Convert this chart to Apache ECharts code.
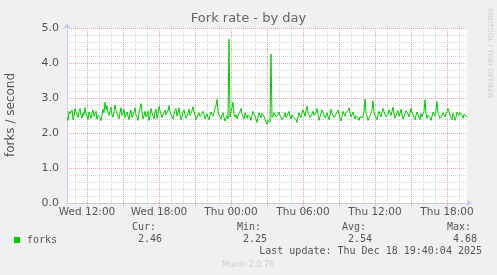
<!DOCTYPE html>
<html>
<head>
<meta charset="utf-8">
<script src="https://cdn.jsdelivr.net/npm/echarts@6/dist/echarts.min.js"></script>
<style>
html,body{margin:0;padding:0;background:#f0f0f0;}
#c{width:497px;height:275px;}
</style>
</head>
<body>
<div id="c"></div>
<script>
// Samples every 5 minutes, starting Wed 10:20, ending Thu 19:40
var startMinute = 10 * 60 + 20;
var stepMinutes = 5;
var forks = [
  2.45,2.36, 2.62,2.54, 2.50,2.66, 2.38,2.48, 2.70,2.60, 2.55,2.44, 2.62,2.70, 2.50,2.42, 2.58,2.50, 2.73,2.56,
  2.48,2.38, 2.60,2.52, 2.42,2.56, 2.66,2.48, 2.52,2.62, 2.40,2.50, 2.55,2.44, 2.35,2.52, 2.68,2.58, 2.88,2.66,
  2.78,2.60, 2.50,2.64, 2.74,2.52, 2.45,2.62, 2.80,2.66, 2.56,2.46, 2.40,2.58, 2.72,2.50, 2.58,2.68, 2.44,2.54,
  2.60,2.48, 2.38,2.56, 2.66,2.44, 2.50,2.60, 2.72,2.52, 2.46,2.36, 2.58,2.70, 2.84,2.62, 2.40,2.50, 2.62,2.46,
  2.52,2.62, 2.36,2.48, 2.70,2.58, 2.48,2.40, 2.60,2.68, 2.42,2.54, 2.76,2.64, 2.55,2.44, 2.45,2.58, 2.66,2.52,
  2.50,2.64, 2.78,2.60, 2.56,2.46, 2.40,2.54, 2.64,2.70, 2.48,2.58, 2.72,2.50, 2.38,2.46, 2.60,2.66, 2.52,2.42,
  2.44,2.56, 2.68,2.50, 2.56,2.64, 2.75,2.60, 2.50,2.38, 2.42,2.52, 2.58,2.48, 2.46,2.56, 2.62,2.52, 2.40,2.48,
  2.55,2.44, 2.38,2.50, 2.60,2.54, 2.48,2.58, 2.70,2.78, 2.96,2.64, 2.52,2.46, 2.40,2.52, 2.58,2.44, 2.34,2.42,
  2.50,2.40, 4.68,2.46, 2.62,2.72, 2.88,2.56, 2.45,2.52, 2.40,2.48, 2.56,2.62, 2.70,2.54, 2.46,2.40, 2.58,2.50,
  2.42,2.52, 2.55,2.46, 2.36,2.50, 2.62,2.54, 2.48,2.40, 2.30,2.44, 2.58,2.50, 2.44,2.56, 2.60,2.48, 2.38,2.32,
  2.25,2.36, 2.40,2.30, 4.25,2.44, 2.48,2.58, 2.55,2.46, 2.42,2.52, 2.60,2.50, 2.46,2.38, 2.35,2.48, 2.58,2.44,
  2.50,2.56, 2.62,2.48, 2.40,2.52, 2.54,2.44, 2.46,2.38, 2.30,2.46, 2.58,2.50, 2.44,2.56, 2.66,2.58, 2.48,2.62,
  2.76,2.60, 2.52,2.44, 2.40,2.54, 2.62,2.50, 2.48,2.58, 2.70,2.52, 2.36,2.46, 2.56,2.66, 2.64,2.52, 2.44,2.50,
  2.58,2.46, 2.38,2.52, 2.68,2.56, 2.50,2.44, 2.42,2.54, 2.60,2.66, 2.54,2.42, 2.34,2.48, 2.62,2.54, 2.48,2.58,
  2.56,2.64, 2.72,2.58, 2.46,2.52, 2.60,2.48, 2.40,2.50, 2.55,2.44, 2.36,2.46, 2.50,2.42, 2.44,2.60, 2.97,2.58,
  2.48,2.36, 2.40,2.50, 2.56,2.66, 2.92,2.60, 2.50,2.44, 2.38,2.52, 2.62,2.54, 2.46,2.58, 2.70,2.62, 2.52,2.46,
  2.44,2.54, 2.66,2.58, 2.50,2.62, 2.74,2.56, 2.42,2.50, 2.58,2.64, 2.48,2.56, 2.68,2.52, 2.40,2.48, 2.56,2.64,
  2.62,2.54, 2.46,2.58, 2.70,2.60, 2.52,2.44, 2.38,2.50, 2.60,2.52, 2.44,2.38, 2.56,2.46, 2.48,2.62, 2.95,2.54,
  2.42,2.50, 2.55,2.44, 2.36,2.48, 2.60,2.54, 2.48,2.66, 2.90,2.58, 2.50,2.42, 2.40,2.50, 2.58,2.52, 2.46,2.56,
  2.62,2.70, 2.75,2.52, 2.44,2.38, 2.56,2.48, 2.36,2.44, 2.60,2.56, 2.50,2.58, 2.58,2.50, 2.42,2.54, 2.52,2.48,
  2.46
];
var tickLabels = ['Wed 12:00', 'Wed 18:00', 'Thu 00:00', 'Thu 06:00', 'Thu 12:00', 'Thu 18:00'];
var yTicks = [0, 1, 2, 3, 4, 5];
var legendHeaders = ['Cur:', 'Min:', 'Avg:', 'Max:'];
var legendValues = ['2.46', '2.25', '2.54', '4.68'];
var seriesName = 'forks';
var lastUpdate = 'Last update: Thu Dec 18 19:40:04 2025';

function pad(n) { return (n < 10 ? '0' : '') + n; }
var minutes = [];
var categories = [];
for (var i = 0; i < forks.length; i++) {
  var m = startMinute + i * stepMinutes;
  minutes.push(m);
  var day = m >= 1440 ? 'Thu' : 'Wed';
  var mm = m % 1440;
  categories.push(day + ' ' + pad(Math.floor(mm / 60)) + ':' + pad(mm % 60));
}

var chart = echarts.init(document.getElementById('c'), null, {renderer: 'canvas'});
var axisBlue = '#c8c8f4';
var majorCol = '#e6a3a3';
var minorCol = '#d6d6d6';
var txt = '#555555';
var mono = '"DejaVu Sans Mono", monospace';
var sans = '"DejaVu Sans", sans-serif';

var colX = [132, 237, 342, 447];
var gfx = [
  {type: 'text', left: 'center', top: 12, style: {text: 'Fork rate - by day', font: '13px ' + sans, fill: '#666'}},
  {type: 'text', x: 11, y: 115, rotation: Math.PI / 2, style: {text: 'forks / second', font: '12px ' + sans, fill: txt, align: 'center', verticalAlign: 'middle'}},
  {type: 'text', x: 490, y: 53, rotation: -Math.PI / 2, style: {text: 'RRDTOOL / TOBI OETIKER', font: '7px ' + sans, fill: '#cfcfcf', align: 'center', verticalAlign: 'middle'}},
  {type: 'rect', shape: {x: 14, y: 237, width: 6, height: 6}, style: {fill: '#00cc00'}},
  {type: 'text', x: 27, y: 240, style: {text: seriesName, font: '10px ' + mono, fill: txt, verticalAlign: 'middle'}},
  {type: 'text', x: 482, y: 251, style: {text: lastUpdate, font: '10px ' + mono, fill: txt, align: 'right', verticalAlign: 'middle'}},
  {type: 'text', x: 248, y: 265, style: {text: 'Munin 2.0.76', font: '8px ' + sans, fill: '#cfcfcf', align: 'center', verticalAlign: 'middle'}}
];
for (var k = 0; k < 4; k++) {
  gfx.push({type: 'text', x: colX[k], y: 227, style: {text: legendHeaders[k], font: '10px ' + mono, fill: txt, verticalAlign: 'middle'}});
  gfx.push({type: 'text', x: colX[k] + 6, y: 239, style: {text: legendValues[k], font: '10px ' + mono, fill: txt, verticalAlign: 'middle'}});
}

chart.setOption({
  backgroundColor: '#f0f0f0',
  animation: false,
  grid: {left: 67, top: 28, width: 400, height: 175, backgroundColor: '#ffffff', show: true, borderWidth: 0},
  xAxis: [
    {
      type: 'category', data: categories, boundaryGap: false, gridIndex: 0, z: 3,
      axisLine: {show: true, lineStyle: {color: axisBlue, width: 1}, symbol: ['none', 'arrow'], symbolSize: [6, 6], symbolOffset: [0, 5]},
      axisTick: {show: true, length: 3, lineStyle: {color: majorCol, type: 'dotted'},
        interval: function (idx) { return minutes[idx] % 180 === 0; }},
      axisLabel: {show: true, color: txt, fontFamily: sans, fontSize: 10.5, margin: 4,
        interval: function (idx, val) { return tickLabels.indexOf(val) >= 0; }},
      splitLine: {show: true, lineStyle: {color: majorCol, type: 'dotted', width: 1},
        interval: function (idx) { return minutes[idx] % 180 === 0; }}
    },
    {
      type: 'category', data: categories, boundaryGap: false, gridIndex: 0, position: 'bottom', z: 1,
      axisLine: {show: false}, axisTick: {show: false}, axisLabel: {show: false},
      splitLine: {show: true, lineStyle: {color: minorCol, type: 'dotted', width: 1},
        interval: function (idx) { return minutes[idx] % 60 === 0 && minutes[idx] % 180 !== 0; }}
    }
  ],
  yAxis: {
    type: 'value', min: yTicks[0], max: yTicks[yTicks.length - 1], interval: 1, z: 3,
    axisLine: {show: true, lineStyle: {color: axisBlue, width: 1}, symbol: ['none', 'arrow'], symbolSize: [6, 6], symbolOffset: [0, 5]},
    axisTick: {show: false},
    axisLabel: {color: txt, fontFamily: sans, fontSize: 11, margin: 8, formatter: function (v) { return v.toFixed(1); }},
    splitLine: {show: true, lineStyle: {color: majorCol, type: 'dotted', width: 1}},
    minorTick: {show: false, splitNumber: 5},
    minorSplitLine: {show: true, lineStyle: {color: minorCol, type: 'dotted', width: 1}}
  },
  series: [{
    name: seriesName, type: 'line', data: forks, xAxisIndex: 0, showSymbol: false, symbol: 'none',
    lineStyle: {color: '#00cc00', width: 1}, z: 5
  }],
  graphic: gfx
});
</script>
</body>
</html>
